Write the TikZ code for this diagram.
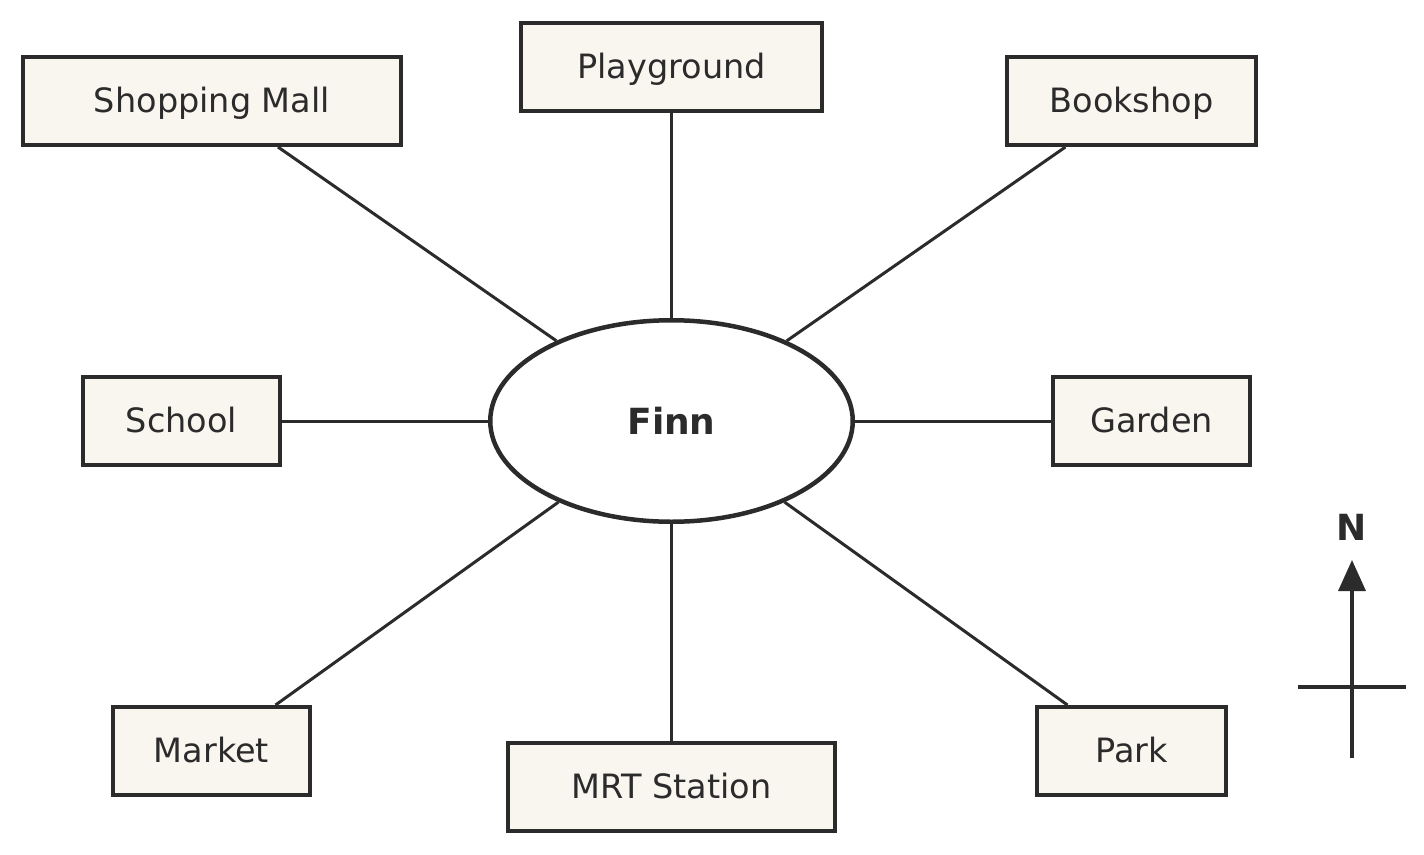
\documentclass[tikz,border=0pt]{standalone}
\usepackage{fontspec}
\setmainfont{DejaVu Sans}
\usetikzlibrary{shapes.geometric,arrows.meta}
\definecolor{ink}{HTML}{2B2B2B}
\definecolor{paper}{HTML}{F9F5EF}
\begin{document}
\begin{tikzpicture}[x=1pt,y=-1pt,
  place/.style={draw=ink,fill=paper,line width=4pt,rectangle,inner sep=0pt,
    minimum height=88pt,text height=24pt,text depth=0.5pt,text=ink,
    font=\fontsize{33.5}{40}\selectfont},
  hub/.style={draw=ink,fill=white,line width=4.5pt,ellipse,inner sep=0pt,
    minimum width=362.5pt,minimum height=201.5pt,text=ink,
    font=\fontsize{36}{42}\selectfont\bfseries},
  link/.style={draw=ink,line width=3pt}]
\useasboundingbox (0,0) rectangle (1424,854);
\node[hub] (finn) at (671.5,421) {Finn};
\node[place,minimum width=378pt] (mall) at (212,101) {Shopping Mall};
\node[place,minimum width=301pt] (play) at (671.5,66.5) {Playground};
\node[place,minimum width=249pt] (book) at (1131.5,101) {Bookshop};
\node[place,minimum width=197pt] (school) at (181.5,421) {School};
\node[place,minimum width=197pt] (garden) at (1151.5,421) {Garden};
\node[place,minimum width=197pt] (market) at (211.5,751) {Market};
\node[place,minimum width=327pt] (mrt) at (671.5,787) {MRT Station};
\node[place,minimum width=189pt] (park) at (1131.5,751) {Park};
\foreach \n in {mall,play,book,school,garden,market,mrt,park}
  \draw[link] (\n) -- (finn);
% compass
\coordinate (cs) at (1352,758);
\coordinate (ct) at (1352,560);
\coordinate (cl) at (1298,687);
\coordinate (cr) at (1406,687);
\draw[ink,line width=3.5pt,-{Triangle[length=31pt,width=27pt]}] (cs) -- (ct);
\draw[ink,line width=3.5pt] (cl) -- (cr);
\node[text=ink,font=\fontsize{36}{42}\selectfont\bfseries] (north) at (1352,527) {N};
\end{tikzpicture}
\end{document}
